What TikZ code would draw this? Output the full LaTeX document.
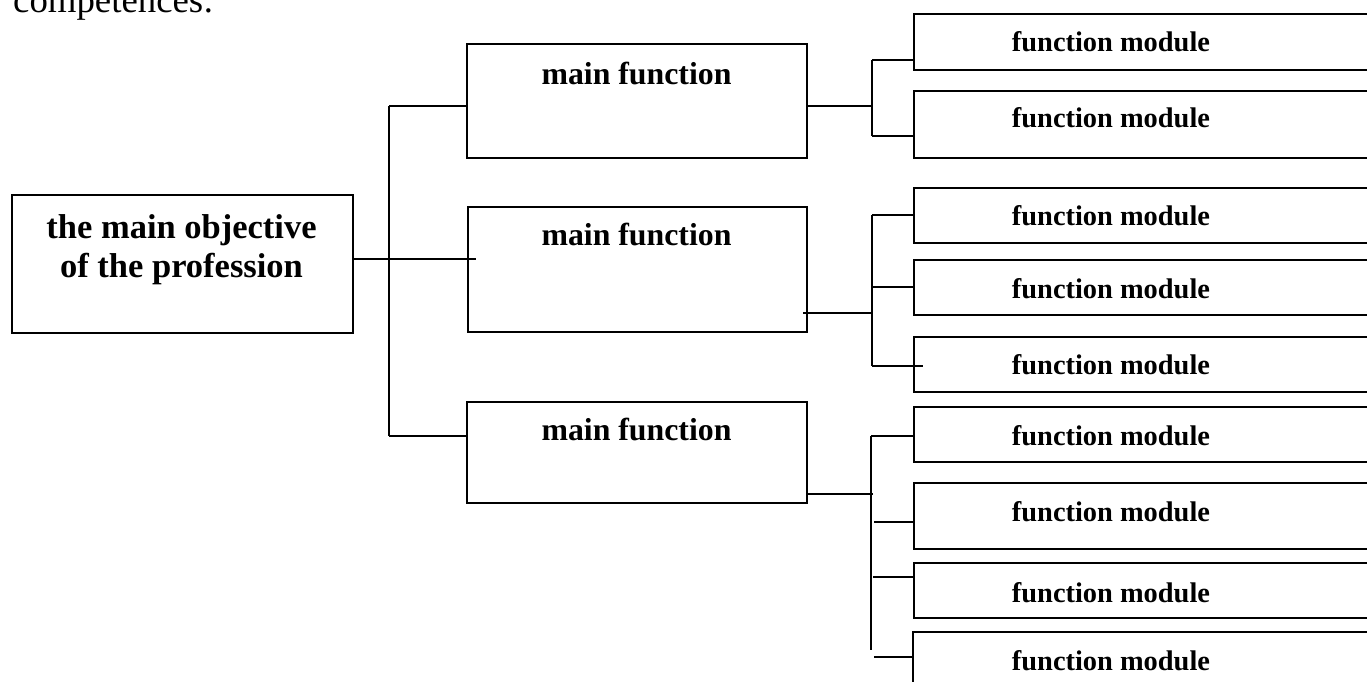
\documentclass[tikz,border=0pt]{standalone}
\usepackage{fontspec}
\setmainfont{Liberation Serif}
\begin{document}
\begin{tikzpicture}[x=1bp,y=-1bp,
  frame/.style={draw, line width=2bp, inner sep=0pt, anchor=north west},
  wire/.style={line width=2bp},
  objlabel/.style={font=\bfseries\fontsize{34.5bp}{39bp}\selectfont, align=center, anchor=base, inner sep=0pt},
  mainlabel/.style={font=\bfseries\fontsize{31.8bp}{36bp}\selectfont, anchor=base, inner sep=0pt},
  modlabel/.style={font=\bfseries\fontsize{28.4bp}{32bp}\selectfont, anchor=base, inner sep=0pt}]
\useasboundingbox (0,0) rectangle (1367,682);
\clip (0,0) rectangle (1367,682);

% lead-in text from the running paragraph
\node[font=\fontsize{36.8bp}{40bp}\selectfont, anchor=base west, inner sep=0pt] (lead) at (13,13) {competences:};

% objective (base anchor sits on the last line)
\node[frame, minimum width=341bp, minimum height=138bp] (obj) at (11,194) {};
\node[objlabel] (objtxt) at (181.5,277) {the main objective\\of the profession};

% main functions
\node[frame, minimum width=340bp, minimum height=114bp] (m1) at (466,43) {};
\node[frame, minimum width=339bp, minimum height=125bp] (m2) at (467,206) {};
\node[frame, minimum width=340bp, minimum height=101bp] (m3) at (466,401) {};
\node[mainlabel] (m1t) at (636.5,85) {main function};
\node[mainlabel] (m2t) at (636.5,245) {main function};
\node[mainlabel] (m3t) at (636.5,440) {main function};

% function modules
\node[frame, minimum width=487bp, minimum height=56bp] (f1) at (913,13) {};
\node[frame, minimum width=487bp, minimum height=67bp] (f2) at (913,90) {};
\node[frame, minimum width=487bp, minimum height=55bp] (f3) at (913,187) {};
\node[frame, minimum width=487bp, minimum height=55bp] (f4) at (913,259) {};
\node[frame, minimum width=487bp, minimum height=55bp] (f5) at (913,336) {};
\node[frame, minimum width=487bp, minimum height=55bp] (f6) at (913,406) {};
\node[frame, minimum width=487bp, minimum height=66bp] (f7) at (913,482) {};
\node[frame, minimum width=487bp, minimum height=55bp] (f8) at (913,562) {};
\node[frame, minimum width=488bp, minimum height=80bp] (f9) at (912,631) {};
\node[modlabel] (f1t) at (1111,52) {function module};
\node[modlabel] (f2t) at (1111,128) {function module};
\node[modlabel] (f3t) at (1111,225) {function module};
\node[modlabel] (f4t) at (1111,298) {function module};
\node[modlabel] (f5t) at (1111,374) {function module};
\node[modlabel] (f6t) at (1111,445) {function module};
\node[modlabel] (f7t) at (1111,521) {function module};
\node[modlabel] (f8t) at (1111,602) {function module};
\node[modlabel] (f9t) at (1111,670) {function module};

% junction points
\coordinate (a0) at (389,259);
\coordinate (a1) at (389,106);
\coordinate (a3) at (389,436);
\coordinate (b0) at (872,106);
\coordinate (b1) at (872,60);
\coordinate (b2) at (872,136);
\coordinate (c0) at (872,313);
\coordinate (c1) at (872,215);
\coordinate (c2) at (872,287);
\coordinate (c3) at (872,366);
\coordinate (d0) at (871,494);
\coordinate (d1) at (871,436);
\coordinate (d4) at (871,650);

% objective to main functions
\draw[wire] (obj.east |- a0) -- (476,259);
\draw[wire] (a1) -- (a3);
\draw[wire] (a1) -- (m1.west |- a1);
\draw[wire] (a3) -- (m3.west |- a3);

% first main function
\draw[wire] (m1.east |- b0) -- (b0);
\draw[wire] (b1) -- (b2);
\draw[wire] (b1) -- (f1.west |- b1);
\draw[wire] (b2) -- (f2.west |- b2);

% second main function
\draw[wire] (803,313) -- (c0);
\draw[wire] (c1) -- (c3);
\draw[wire] (c1) -- (f3.west |- c1);
\draw[wire] (c2) -- (f4.west |- c2);
\draw[wire] (c3) -- (923,366);

% third main function
\draw[wire] (m3.east |- d0) -- (873,494);
\draw[wire] (d1) -- (d4);
\draw[wire] (d1) -- (f6.west |- d1);
\draw[wire] (874,522) -- (f7.west |- 0,522);
\draw[wire] (873,577) -- (f8.west |- 0,577);
\draw[wire] (874,657) -- (f9.west |- 0,657);
\end{tikzpicture}
\end{document}
